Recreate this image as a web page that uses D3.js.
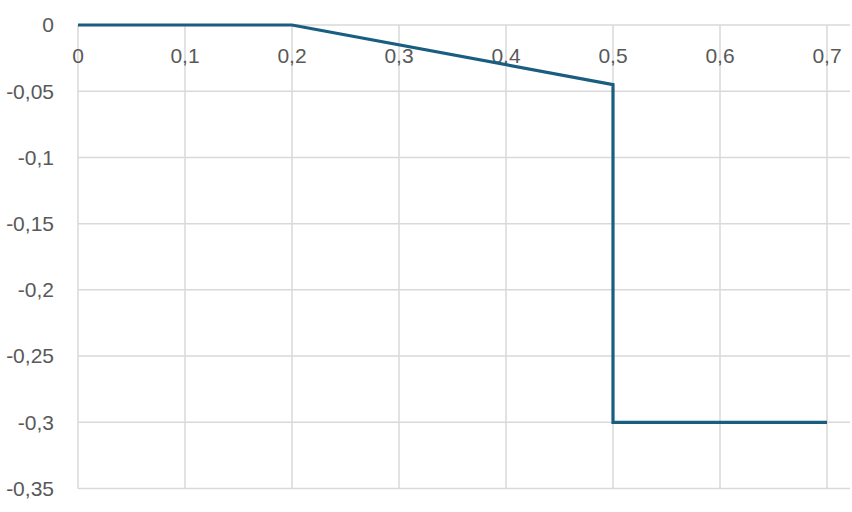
<!DOCTYPE html>
<html>
<head>
<meta charset="utf-8">
<script src="https://cdn.jsdelivr.net/npm/d3@7"></script>
<style>
  body { margin: 0; background: #fff; }
  svg text { font-family: "Liberation Sans", Arial, sans-serif; font-size: 21px; fill: #595959; }
</style>
</head>
<body>
<div id="graph"></div>
<script>
// data
var xValues = [0, 0.2, 0.5, 0.5, 0.7];
var yValues = [0, 0, -0.045, -0.3, -0.3];
var xTicks = [0, 0.1, 0.2, 0.3, 0.4, 0.5, 0.6, 0.7];
var yTicks = [0, -0.05, -0.1, -0.15, -0.2, -0.25, -0.3, -0.35];

var width = 852, height = 512;
var plotRight = 850;

var graph = d3.select("#graph")
    .append("svg")
    .attr("width", width)
    .attr("height", height);

var xScale = d3.scaleLinear().domain([0, 0.7]).range([78, 827]);
var yScale = d3.scaleLinear().domain([0, -0.35]).range([25, 488.5]);

// comma decimals, plain hyphen for minus
var fmt = function(d) {
    return String(+d.toFixed(2)).replace(".", ",");
};

// vertical grid lines
graph.append("g")
    .selectAll("line")
    .data(xTicks)
    .enter().append("line")
    .attr("x1", function(d) { return xScale(d); })
    .attr("x2", function(d) { return xScale(d); })
    .attr("y1", yScale(0))
    .attr("y2", yScale(-0.35))
    .attr("stroke", "#d9d9d9")
    .attr("stroke-width", 1.5);

// horizontal grid lines
graph.append("g")
    .selectAll("line")
    .data(yTicks)
    .enter().append("line")
    .attr("x1", xScale(0))
    .attr("x2", plotRight)
    .attr("y1", function(d) { return yScale(d); })
    .attr("y2", function(d) { return yScale(d); })
    .attr("stroke", "#d9d9d9")
    .attr("stroke-width", 1.5);

// y labels
graph.append("g")
    .selectAll("text")
    .data(yTicks)
    .enter().append("text")
    .attr("x", 54)
    .attr("y", function(d) { return yScale(d); })
    .attr("dy", "0.35em")
    .attr("text-anchor", "end")
    .text(fmt);

// x labels, sitting under the zero line
graph.append("g")
    .selectAll("text")
    .data(xTicks)
    .enter().append("text")
    .attr("x", function(d) { return xScale(d); })
    .attr("y", yScale(0) + 31)
    .attr("dy", "0.35em")
    .attr("text-anchor", "middle")
    .text(fmt);

var path = d3.line()
    .x(function(d) { return xScale(d[0]); })
    .y(function(d) { return yScale(d[1]); });

graph.append("path")
    .datum(d3.zip(xValues, yValues))
    .attr("d", path)
    .attr("fill", "none")
    .attr("stroke", "#195d80")
    .attr("stroke-width", 3.2)
    .attr("stroke-linejoin", "miter");
</script>
</body>
</html>
